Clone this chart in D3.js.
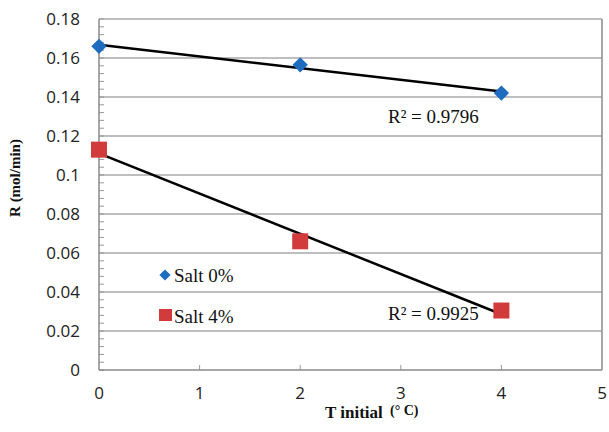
<!DOCTYPE html>
<meta charset="utf-8">
<style>
    html,
    body {
        margin: 0;
        padding: 0;
        background: #fff;
    }

    .ytick text,
    .xtick text {
        font-family: "Open Sans", "Noto Sans", sans-serif;
        font-size: 17px;
        fill: #222;
    }

    .serif {
        font-family: "Liberation Serif", "DejaVu Serif", serif;
        fill: #111;
    }
</style>
<svg id="canvas" width="609" height="432"></svg>
<script src="https://d3js.org/d3.v7.min.js"></script>
<script>
    // values
    var temps = [0, 2, 4];
    var salt0 = [0.166, 0.1565, 0.142];
    var salt4 = [0.113, 0.066, 0.0305];
    var seriesNames = ["Salt 0%", "Salt 4%"];
    var r2Labels = ["R\u00b2 = 0.9796", "R\u00b2 = 0.9925"];
    var xTicks = [0, 1, 2, 3, 4, 5];
    var yTicks = [0, 0.02, 0.04, 0.06, 0.08, 0.1, 0.12, 0.14, 0.16, 0.18];

    var svg = d3.select("svg");
    var margin = { top: 19, right: 7, bottom: 62, left: 99 };
    var width = 609 - margin.left - margin.right,
        height = 432 - margin.top - margin.bottom;

    var x = d3.scaleLinear().domain([0, 5]).range([0, width]);
    var y = d3.scaleLinear().domain([0, 0.18]).range([height, 0]);

    var g = svg.append("g").attr("transform", "translate(" + margin.left + "," + margin.top + ")");

    // horizontal gridlines
    g.append("g")
        .selectAll("line")
        .data(yTicks.slice(1))
        .enter().append("line")
        .attr("x1", 0).attr("x2", width)
        .attr("y1", d => y(d)).attr("y2", d => y(d))
        .style("stroke", "#a8a8a8")
        .style("stroke-width", 1.5);

    // right border
    g.append("line")
        .attr("x1", width).attr("x2", width)
        .attr("y1", 0).attr("y2", height)
        .style("stroke", "#8a8a8a").style("stroke-width", 1.5);

    // minor ticks on y axis (inside)
    var minor = d3.range(0, 0.1801, 0.004);
    g.append("g")
        .selectAll("line")
        .data(minor)
        .enter().append("line")
        .attr("x1", 0).attr("x2", 5)
        .attr("y1", d => y(d)).attr("y2", d => y(d))
        .style("stroke", "#999").style("stroke-width", 1);

    // x ticks (inside, upward)
    g.append("g")
        .selectAll("line")
        .data(xTicks.slice(1, 5))
        .enter().append("line")
        .attr("x1", d => x(d)).attr("x2", d => x(d))
        .attr("y1", height).attr("y2", height - 5)
        .style("stroke", "#999").style("stroke-width", 1);

    // axes lines
    g.append("line").attr("x1", 0).attr("x2", 0).attr("y1", 0).attr("y2", height)
        .style("stroke", "#8a8a8a").style("stroke-width", 1.5);
    g.append("line").attr("x1", 0).attr("x2", width).attr("y1", height).attr("y2", height)
        .style("stroke", "#8a8a8a").style("stroke-width", 1.5);

    // tick labels
    g.append("g").attr("class", "ytick")
        .selectAll("text")
        .data(yTicks)
        .enter().append("text")
        .attr("x", -19)
        .attr("y", d => y(d))
        .attr("dy", "0.35em")
        .attr("text-anchor", "end")
        .text(d => d === 0 ? "0" : d3.format("")(+d.toFixed(2)));

    g.append("g").attr("class", "xtick")
        .selectAll("text")
        .data(xTicks)
        .enter().append("text")
        .attr("x", d => x(d))
        .attr("y", height + 29)
        .attr("text-anchor", "middle")
        .text(d => d);

    // trendlines (least squares fit)
    function fit(xs, ys) {
        var mx = d3.mean(xs), my = d3.mean(ys);
        var num = d3.sum(xs, (v, i) => (v - mx) * (ys[i] - my));
        var den = d3.sum(xs, v => (v - mx) * (v - mx));
        var b = num / den;
        return { a: my - b * mx, b: b };
    }
    [salt0, salt4].forEach(function(s) {
        var f = fit(temps, s);
        var x0 = d3.min(temps), x1 = d3.max(temps);
        g.append("line")
            .attr("x1", x(x0)).attr("y1", y(f.a + f.b * x0))
            .attr("x2", x(x1)).attr("y2", y(f.a + f.b * x1))
            .style("stroke", "#000").style("stroke-width", 2.5);
    });

    var diamond = d3.symbol().type(d3.symbolDiamond2).size(150);
    var blue = "#1d6cc0", red = "#d23b3b";

    g.append("g").selectAll("path")
        .data(temps)
        .enter().append("path")
        .attr("d", diamond)
        .attr("transform", (d, i) => "translate(" + x(d) + "," + y(salt0[i]) + ")")
        .style("fill", blue);

    g.append("g").selectAll("rect")
        .data(temps)
        .enter().append("rect")
        .attr("x", d => x(d) - 8)
        .attr("y", (d, i) => y(salt4[i]) - 8)
        .attr("width", 16).attr("height", 16)
        .style("fill", red);

    // R² labels
    g.append("text").attr("class", "serif")
        .attr("x", 289).attr("y", 104)
        .style("font-size", "19px")
        .text(r2Labels[0]);
    g.append("text").attr("class", "serif")
        .attr("x", 289).attr("y", 301)
        .style("font-size", "19px")
        .text(r2Labels[1]);

    // legend
    var leg = svg.append("g").attr("transform", "translate(165,0)");
    leg.append("path")
        .attr("d", d3.symbol().type(d3.symbolDiamond2).size(80))
        .attr("transform", "translate(0,275)")
        .style("fill", blue);
    leg.append("rect")
        .attr("x", -6).attr("y", 309).attr("width", 13).attr("height", 12)
        .style("fill", red);
    leg.append("text").attr("class", "serif")
        .attr("x", 9).attr("y", 282).style("font-size", "19px").text(seriesNames[0]);
    leg.append("text").attr("class", "serif")
        .attr("x", 9).attr("y", 323).style("font-size", "19px").text(seriesNames[1]);

    // axis titles
    svg.append("text").attr("class", "serif")
        .attr("transform", "translate(20,178) rotate(-90)")
        .attr("text-anchor", "middle")
        .style("font-size", "15px")
        .style("font-weight", "bold")
        .text("R (mol/min)");

    svg.append("text").attr("class", "serif")
        .attr("x", 325).attr("y", 418)
        .style("font-size", "17px")
        .style("font-weight", "bold")
        .text("T initial");
    svg.append("text").attr("class", "serif")
        .attr("x", 390).attr("y", 415)
        .style("font-size", "14px")
        .style("font-weight", "bold")
        .text("(\u00b0 C)");
</script>
